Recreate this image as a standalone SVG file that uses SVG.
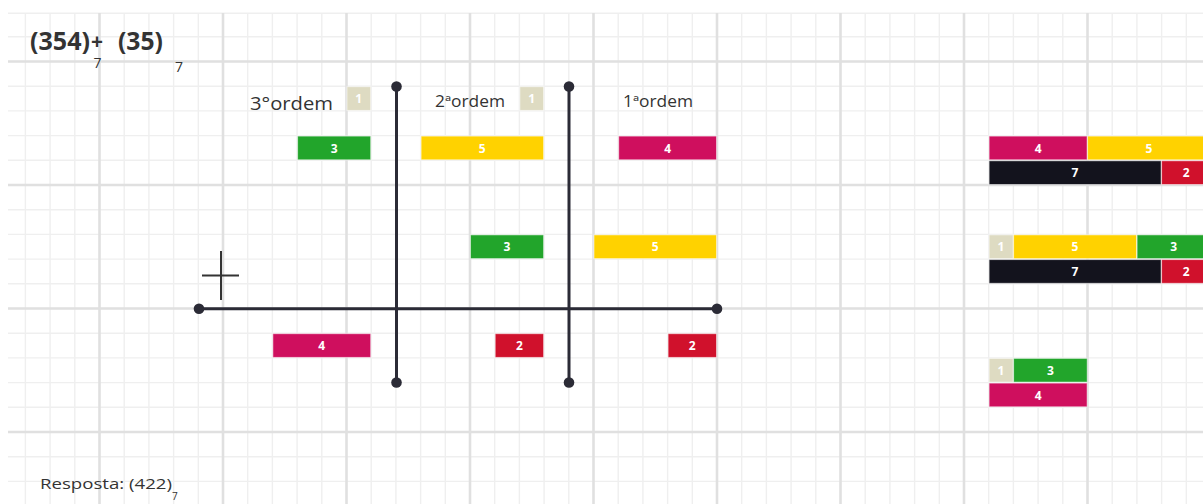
<svg xmlns="http://www.w3.org/2000/svg" width="1203" height="504" viewBox="0 0 1203 504">
  <style>
    .minor { stroke: #efefef; stroke-width: 1.4; fill: none; }
    .major { stroke: #e0e0e0; stroke-width: 2.6; fill: none; }
    .ax { stroke: #2b2b36; stroke-width: 3; fill: none; }
    .dot { fill: #2b2b36; }
    .b { stroke: #ffffff; stroke-opacity: 0.5; stroke-width: 1; }
    .bt { font-family: "Open Sans", "Liberation Sans", sans-serif; font-weight: 700; font-size: 12px; fill: #ffffff; text-anchor: middle; }
    .g { fill: #22a52b; }
    .y { fill: #ffd200; }
    .p { fill: #cf0f5e; }
    .r { fill: #d0112c; }
    .k { fill: #13131d; }
    .e { fill: #dedbc2; }
    .lbl { font-family: "Open Sans", "Liberation Sans", sans-serif; fill: #333333; }
    .title { font-family: "Open Sans", "Liberation Sans", sans-serif; font-weight: 700; fill: #333333; }
  </style>
  <rect x="0" y="0" width="1203" height="504" fill="#ffffff"/>
  <g id="grid">
    <path class="minor" d="M25.4 13V504M50.1 13V504M74.8 13V504M124.2 13V504M148.9 13V504M173.6 13V504M198.3 13V504M247.7 13V504M272.4 13V504M297.1 13V504M321.8 13V504M371.2 13V504M395.9 13V504M420.6 13V504M445.3 13V504M494.7 13V504M519.4 13V504M544.1 13V504M568.8 13V504M618.2 13V504M642.9 13V504M667.6 13V504M692.3 13V504M741.7 13V504M766.4 13V504M791.1 13V504M815.8 13V504M865.2 13V504M889.9 13V504M914.6 13V504M939.3 13V504M988.7 13V504M1013.4 13V504M1038.1 13V504M1062.8 13V504M1112.2 13V504M1136.9 13V504M1161.6 13V504M1186.3 13V504"/>
    <path class="minor" d="M8 13.2H1203M8 36.8H1203M8 86.2H1203M8 110.9H1203M8 135.6H1203M8 160.3H1203M8 209.7H1203M8 234.4H1203M8 259.1H1203M8 283.8H1203M8 333.2H1203M8 357.9H1203M8 382.6H1203M8 407.3H1203M8 456.7H1203M8 481.4H1203"/>
    <path class="major" d="M99.5 13V504M223 13V504M346.5 13V504M470 13V504M593.5 13V504M717 13V504M840.5 13V504M964 13V504M1087.5 13V504"/>
    <path class="major" d="M8 61.5H1203M8 185H1203M8 308.5H1203M8 432H1203"/>
  </g>

  <g id="title">
    <text class="title" x="30" y="50" font-size="25" textLength="60" lengthAdjust="spacingAndGlyphs">(354)</text>
    <text class="title" x="97" y="49" font-size="21" text-anchor="middle">+</text>
    <text class="lbl" x="97.5" y="68" font-size="14" text-anchor="middle">7</text>
    <text class="title" x="118" y="50" font-size="25" textLength="45" lengthAdjust="spacingAndGlyphs">(35)</text>
    <text class="lbl" x="179" y="72" font-size="14" text-anchor="middle">7</text>
  </g>

  <g id="connectors">
    <line class="ax" x1="396.5" y1="86.5" x2="396.5" y2="382.5"/>
    <line class="ax" x1="569" y1="86.5" x2="569" y2="382.5"/>
    <line class="ax" x1="199" y1="308.7" x2="717" y2="308.7"/>
    <circle class="dot" cx="396.5" cy="86.5" r="5.3"/>
    <circle class="dot" cx="396.5" cy="382.5" r="5.3"/>
    <circle class="dot" cx="569" cy="86.5" r="5.3"/>
    <circle class="dot" cx="569" cy="382.5" r="5.3"/>
    <circle class="dot" cx="199" cy="308.7" r="5.3"/>
    <circle class="dot" cx="717" cy="308.7" r="5.3"/>
  </g>

  <g id="plus-sign">
    <line x1="221" y1="251" x2="221" y2="300" stroke="#333333" stroke-width="2"/>
    <line x1="202" y1="275.5" x2="239" y2="275.5" stroke="#333333" stroke-width="2"/>
  </g>

  <g id="label-3ordem">
    <text class="lbl" x="250" y="110" font-size="18" textLength="83" lengthAdjust="spacingAndGlyphs">3°ordem</text>
    <rect class="e b" x="347" y="86.7" width="23.7" height="23.7"/>
    <text class="bt" x="358.8" y="103">1</text>
  </g>
  <g id="label-2ordem">
    <text class="lbl" x="435" y="106.5" font-size="15.5" textLength="70" lengthAdjust="spacingAndGlyphs">2ªordem</text>
    <rect class="e b" x="519.9" y="86.7" width="23.7" height="23.7"/>
    <text class="bt" x="531.7" y="103">1</text>
  </g>
  <g id="label-1ordem">
    <text class="lbl" x="623" y="107" font-size="15.5" textLength="70" lengthAdjust="spacingAndGlyphs">1ªordem</text>
  </g>

  <g id="row1-3">
    <rect class="g b" x="297.6" y="136.1" width="73.1" height="23.7"/>
    <text class="bt" x="334.1" y="152.5">3</text>
  </g>
  <g id="row1-5">
    <rect class="y b" x="421.1" y="136.1" width="122.5" height="23.7"/>
    <text class="bt" x="482.3" y="152.5">5</text>
  </g>
  <g id="row1-4">
    <rect class="p b" x="618.7" y="136.1" width="97.8" height="23.7"/>
    <text class="bt" x="667.6" y="152.5">4</text>
  </g>

  <g id="row2-3">
    <rect class="g b" x="470.5" y="234.9" width="73.1" height="23.7"/>
    <text class="bt" x="507" y="251.3">3</text>
  </g>
  <g id="row2-5">
    <rect class="y b" x="594" y="234.9" width="122.5" height="23.7"/>
    <text class="bt" x="655.2" y="251.3">5</text>
  </g>

  <g id="row3-4">
    <rect class="p b" x="272.9" y="333.7" width="97.8" height="23.7"/>
    <text class="bt" x="321.8" y="350.1">4</text>
  </g>
  <g id="row3-2a">
    <rect class="r b" x="495.2" y="333.7" width="48.4" height="23.7"/>
    <text class="bt" x="519.4" y="350.1">2</text>
  </g>
  <g id="row3-2b">
    <rect class="r b" x="668.1" y="333.7" width="48.4" height="23.7"/>
    <text class="bt" x="692.3" y="350.1">2</text>
  </g>

  <g id="right-top">
    <rect class="p b" x="989.1" y="136.1" width="98" height="23.7"/>
    <text class="bt" x="1038.1" y="152.5">4</text>
    <rect class="y b" x="1087.6" y="136.1" width="123" height="23.7"/>
    <text class="bt" x="1149" y="152.5">5</text>
    <rect class="k b" x="989.1" y="160.8" width="172" height="23.7"/>
    <text class="bt" x="1075" y="177.2">7</text>
    <rect class="r b" x="1161.6" y="160.8" width="49" height="23.7"/>
    <text class="bt" x="1186.3" y="177.2">2</text>
  </g>

  <g id="right-middle">
    <rect class="e b" x="989.1" y="234.9" width="24" height="23.7"/>
    <text class="bt" x="1001" y="251.3">1</text>
    <rect class="y b" x="1013.6" y="234.9" width="123" height="23.7"/>
    <text class="bt" x="1075" y="251.3">5</text>
    <rect class="g b" x="1137.1" y="234.9" width="74" height="23.7"/>
    <text class="bt" x="1173.7" y="251.3">3</text>
    <rect class="k b" x="989.1" y="259.6" width="172" height="23.7"/>
    <text class="bt" x="1075" y="276">7</text>
    <rect class="r b" x="1161.6" y="259.6" width="49" height="23.7"/>
    <text class="bt" x="1186.3" y="276">2</text>
  </g>

  <g id="right-bottom">
    <rect class="e b" x="989.1" y="358.4" width="24" height="23.7"/>
    <text class="bt" x="1001" y="374.8">1</text>
    <rect class="g b" x="1013.6" y="358.4" width="73.6" height="23.7"/>
    <text class="bt" x="1050.4" y="374.8">3</text>
    <rect class="p b" x="989.1" y="383.1" width="98" height="23.7"/>
    <text class="bt" x="1038.1" y="399.5">4</text>
  </g>

  <g id="answer">
    <text class="lbl" x="40" y="489" font-size="14" fill="#444444" textLength="132" lengthAdjust="spacingAndGlyphs">Resposta: (422)</text>
    <text class="lbl" x="172" y="500" font-size="10">7</text>
  </g>
</svg>
